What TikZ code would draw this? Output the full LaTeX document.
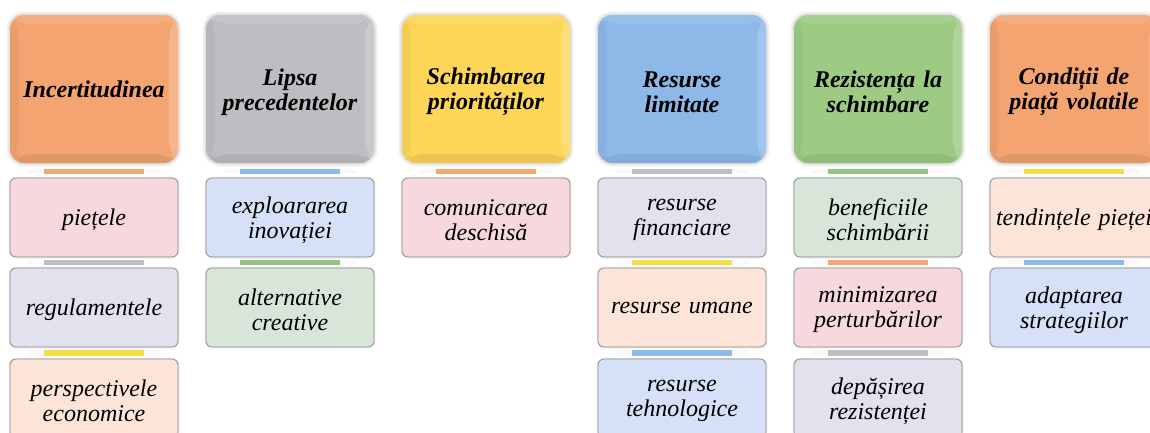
\documentclass[tikz,border=0pt]{standalone}
\usepackage{fontspec}
\setmainfont{Liberation Serif}
\usetikzlibrary{calc}

% header colours
\definecolor{hOrange}{HTML}{F3A471}
\definecolor{hGray}{HTML}{BDBDC2}
\definecolor{hYellow}{HTML}{FDD557}
\definecolor{hBlue}{HTML}{8DB8E8}
\definecolor{hGreen}{HTML}{9DCB84}
% item colours
\definecolor{cPink}{HTML}{F7D9DD}
\definecolor{cLav}{HTML}{E2E1EE}
\definecolor{cPeach}{HTML}{FCE5D8}
\definecolor{cBlue}{HTML}{D6E1F8}
\definecolor{cGreen}{HTML}{D8E6DA}
% link tab colours
\definecolor{tOrange}{HTML}{F2A870}
\definecolor{tGray}{HTML}{BEBEC3}
\definecolor{tYellow}{HTML}{F3DE45}
\definecolor{tBlue}{HTML}{8EBBE6}
\definecolor{tGreen}{HTML}{93C47D}

\tikzset{
  bevel/.style={path picture={
      \path (path picture bounding box.north west) coordinate (bA)
            (path picture bounding box.north east) coordinate (bB)
            (path picture bounding box.south east) coordinate (bC)
            (path picture bounding box.south west) coordinate (bD)
            ([xshift=9pt,yshift=-9pt]bA) coordinate (iA)
            ([xshift=-9pt,yshift=-9pt]bB) coordinate (iB)
            ([xshift=-9pt,yshift=9pt]bC) coordinate (iC)
            ([xshift=9pt,yshift=9pt]bD) coordinate (iD);
      \fill[white, fill opacity=.10] (bA) -- (bB) -- (iB) -- (iA) -- cycle;
      \fill[white, fill opacity=.18] (bB) -- (bC) -- (iC) -- (iB) -- cycle;
      \fill[black, fill opacity=.07] (bC) -- (bD) -- (iD) -- (iC) -- cycle;
      \fill[black, fill opacity=.04] (bD) -- (bA) -- (iA) -- (iD) -- cycle;
  }},
  % text sits a little below the box centre
  lowered/.style={execute at end node={\par\vspace*{-#1}}},
  header/.style={fill=#1, rounded corners=14pt, bevel,
    minimum width=168pt, minimum height=148pt, text width=160pt,
    align=center, inner sep=0pt,
    font=\bfseries\itshape\fontsize{24}{25}\selectfont,
    lowered=6pt,
    preaction={draw=black, draw opacity=.05, line width=7pt},
    preaction={draw=black, draw opacity=.07, line width=3.5pt}},
  item/.style={fill=#1, draw=black!48, line width=.7pt, rounded corners=6pt,
    minimum width=168pt, minimum height=79pt, text width=164pt,
    align=center, inner sep=0pt,
    font=\itshape\fontsize{24}{25}\selectfont,
    lowered=5pt,
    preaction={draw=black, draw opacity=.06, line width=3pt}},
  tab/.style={draw=#1, line width=100pt,
    preaction={draw=black, draw opacity=.025, line width=132pt}},
  toptab/.style={tab=#1, shorten <=6pt, shorten >=3.5pt},
  midtab/.style={tab=#1, shorten <=3pt, shorten >=2.5pt},
}

\begin{document}
\begin{tikzpicture}[x=1pt, y=-1pt]
\useasboundingbox (0,0) rectangle (1150,432);

% column headers
\node[header=hOrange] (h1) at (94,89)   {Incertitudinea};
\node[header=hGray]   (h2) at (290,89)  {Lipsa\\precedentelor};
\node[header=hYellow] (h3) at (486,89)  {Schimbarea\\priorităților};
\node[header=hBlue]   (h4) at (682,89)  {Resurse\\limitate};
\node[header=hGreen]  (h5) at (878,89)  {Rezistența la\\schimbare};
\node[header=hOrange] (h6) at (1074,89) {Condiții de\\piață volatile};

% items, column 1
\node[item=cPink]  (a1) at (94,217.5) {piețele};
\node[item=cLav]   (a2) at (94,307.5) {regulamentele};
\node[item=cPeach] (a3) at (94,398.5) {perspectivele\\economice};
% column 2
\node[item=cBlue]  (b1) at (290,217.5) {exploararea\\inovației};
\node[item=cGreen] (b2) at (290,307.5) {alternative\\creative};
% column 3
\node[item=cPink]  (c1) at (486,217.5) {comunicarea\\deschisă};
% column 4
\node[item=cLav]   (d1) at (682,217.5) {resurse\\financiare};
\node[item=cPeach] (d2) at (682,307.5) {resurse umane};
\node[item=cBlue]  (d3) at (682,398.5) {resurse\\tehnologice};
% column 5
\node[item=cGreen] (e1) at (878,217.5) {beneficiile\\schimbării};
\node[item=cPink]  (e2) at (878,307.5) {minimizarea\\perturbărilor};
\node[item=cLav]   (e3) at (878,398.5) {depășirea\\rezistenței};
% column 6
\node[item=cPeach] (f1) at (1074,217.5) {tendințele pieței};
\node[item=cBlue]  (f2) at (1074,307.5) {adaptarea\\strategiilor};

% link tabs
\draw[toptab=tOrange] (h1) -- (a1);
\draw[midtab=tGray]   (a1) -- (a2);
\draw[midtab=tYellow] (a2) -- (a3);

\draw[toptab=tBlue]   (h2) -- (b1);
\draw[midtab=tGreen]  (b1) -- (b2);

\draw[toptab=tOrange] (h3) -- (c1);

\draw[toptab=tGray]   (h4) -- (d1);
\draw[midtab=tYellow] (d1) -- (d2);
\draw[midtab=tBlue]   (d2) -- (d3);

\draw[toptab=tGreen]  (h5) -- (e1);
\draw[midtab=tOrange] (e1) -- (e2);
\draw[midtab=tGray]   (e2) -- (e3);

\draw[toptab=tYellow] (h6) -- (f1);
\draw[midtab=tBlue]   (f1) -- (f2);
\end{tikzpicture}
\end{document}
